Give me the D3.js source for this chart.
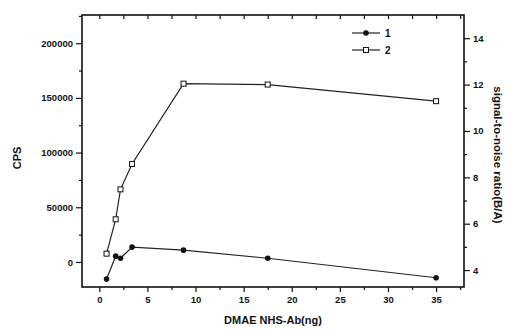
<!DOCTYPE html>
<html>
<head>
<meta charset="utf-8">
<script src="https://cdn.jsdelivr.net/npm/d3@7"></script>
<style>
body { margin: 0; background: #fff; }
svg text { font-family: "Liberation Sans", Arial, sans-serif; fill: #111; }
</style>
</head>
<body>
<svg id="chart" width="505" height="329"></svg>
<script>
// data
const doses = [0.75, 1.7, 2.2, 3.4, 8.75, 17.5, 35];
const cps = [7600, 39000, 66400, 89600, 163000, 162200, 147000];      // series 2, left axis
const snRatio = [3.61, 4.6, 4.51, 4.99, 4.86, 4.51, 3.67];           // series 1, right axis
const xTicks = [0, 5, 10, 15, 20, 25, 30, 35];
const leftTicks = [0, 50000, 100000, 150000, 200000];
const rightTicks = [4, 6, 8, 10, 12, 14];
const seriesNames = ["1", "2"];

const svg = d3.select("#chart");
const plotLeft = 82, plotRight = 464, plotTop = 15, plotBottom = 287;

const x = d3.scaleLinear().domain([-1.8, 37.9]).range([plotLeft, plotRight]);
const yL = d3.scaleLinear().domain([-22900, 225800]).range([plotBottom, plotTop]);
const yR = d3.scaleLinear().domain([3.27, 15]).range([plotBottom, plotTop]);

const ink = "#111";

// minor tick values
const xMinor = d3.range(-2.5, 38, 2.5).filter(v => !xTicks.includes(v) && x(v) > plotLeft && x(v) < plotRight);
const leftMinor = d3.range(25000, 225001, 50000).filter(v => yL(v) > plotTop);
const rightMinor = [5, 7, 9, 11, 13];

// bottom axis
svg.append("g").attr("transform", `translate(0,${plotBottom})`)
    .call(d3.axisBottom(x).tickValues(xTicks).tickSize(5).tickPadding(4).tickFormat(d3.format("d")));
svg.append("g").attr("transform", `translate(0,${plotBottom})`)
    .call(d3.axisBottom(x).tickValues(xMinor).tickSize(3).tickFormat(""));

// top ticks (inward)
svg.append("g").attr("transform", `translate(0,${plotTop})`)
    .call(d3.axisBottom(x).tickValues(xTicks.concat(xMinor)).tickSize(4).tickFormat(""));

// left axis
svg.append("g").attr("transform", `translate(${plotLeft},0)`)
    .call(d3.axisLeft(yL).tickValues(leftTicks).tickSize(6).tickPadding(3).tickFormat(d3.format("d")));
svg.append("g").attr("transform", `translate(${plotLeft},0)`)
    .call(d3.axisLeft(yL).tickValues(leftMinor).tickSize(3).tickFormat(""));

// right axis
svg.append("g").attr("transform", `translate(${plotRight},0)`)
    .call(d3.axisRight(yR).tickValues(rightTicks).tickSize(6).tickPadding(3).tickFormat(d3.format("d")));
svg.append("g").attr("transform", `translate(${plotRight},0)`)
    .call(d3.axisRight(yR).tickValues(rightMinor).tickSize(3).tickFormat(""));

svg.selectAll(".domain").remove();
svg.selectAll(".tick line").attr("stroke", ink).attr("stroke-width", 1.2);
svg.selectAll(".tick text").attr("font-size", "9.5px").attr("font-weight", "bold").attr("fill", ink);

// frame
svg.append("rect")
    .attr("x", plotLeft).attr("y", plotTop)
    .attr("width", plotRight - plotLeft).attr("height", plotBottom - plotTop)
    .attr("fill", "none").attr("stroke", ink).attr("stroke-width", 1.6);

// axis titles
svg.append("text")
    .attr("x", (plotLeft + plotRight) / 2).attr("y", 324)
    .attr("text-anchor", "middle").attr("font-size", "11px").attr("font-weight", "bold")
    .text("DMAE NHS-Ab(ng)");

svg.append("text")
    .attr("transform", "translate(21,158) rotate(-90)")
    .attr("text-anchor", "middle").attr("font-size", "11px").attr("font-weight", "bold")
    .text("CPS");

svg.append("text")
    .attr("transform", "translate(494,155) rotate(90)")
    .attr("text-anchor", "middle").attr("font-size", "11.5px").attr("font-weight", "bold")
    .text("signal-to-noise ratio(B/A)");

// series 1: signal-to-noise, filled circles
const line1 = d3.line().x((d, i) => x(doses[i])).y(d => yR(d));
svg.append("path")
    .attr("d", line1(snRatio))
    .attr("fill", "none").attr("stroke", "#222").attr("stroke-width", 1.2);
svg.selectAll(".dot1")
    .data(snRatio)
    .join("circle")
    .attr("class", "dot1")
    .attr("cx", (d, i) => x(doses[i]))
    .attr("cy", d => yR(d))
    .attr("r", 2.8)
    .attr("fill", ink);

// series 2: CPS, open squares
const line2 = d3.line().x((d, i) => x(doses[i])).y(d => yL(d));
svg.append("path")
    .attr("d", line2(cps))
    .attr("fill", "none").attr("stroke", "#222").attr("stroke-width", 1.2);
svg.selectAll(".sq2")
    .data(cps)
    .join("rect")
    .attr("class", "sq2")
    .attr("x", (d, i) => x(doses[i]) - 2.5)
    .attr("y", d => yL(d) - 2.5)
    .attr("width", 5).attr("height", 5)
    .attr("fill", "#fff").attr("stroke", ink).attr("stroke-width", 1);

// legend
const legend = svg.append("g");
seriesNames.forEach((name, i) => {
    const ly = 33 + i * 17;
    legend.append("line")
        .attr("x1", 352).attr("x2", 380).attr("y1", ly).attr("y2", ly)
        .attr("stroke", "#222").attr("stroke-width", 1.2);
    if (i === 0) {
        legend.append("circle").attr("cx", 366).attr("cy", ly).attr("r", 2.8).attr("fill", ink);
    } else {
        legend.append("rect").attr("x", 363.5).attr("y", ly - 2.5)
            .attr("width", 5).attr("height", 5)
            .attr("fill", "#fff").attr("stroke", ink).attr("stroke-width", 1);
    }
    legend.append("text")
        .attr("x", 385).attr("y", ly + 3.5)
        .attr("font-size", "10px").attr("font-weight", "bold")
        .text(name);
});
</script>
</body>
</html>
